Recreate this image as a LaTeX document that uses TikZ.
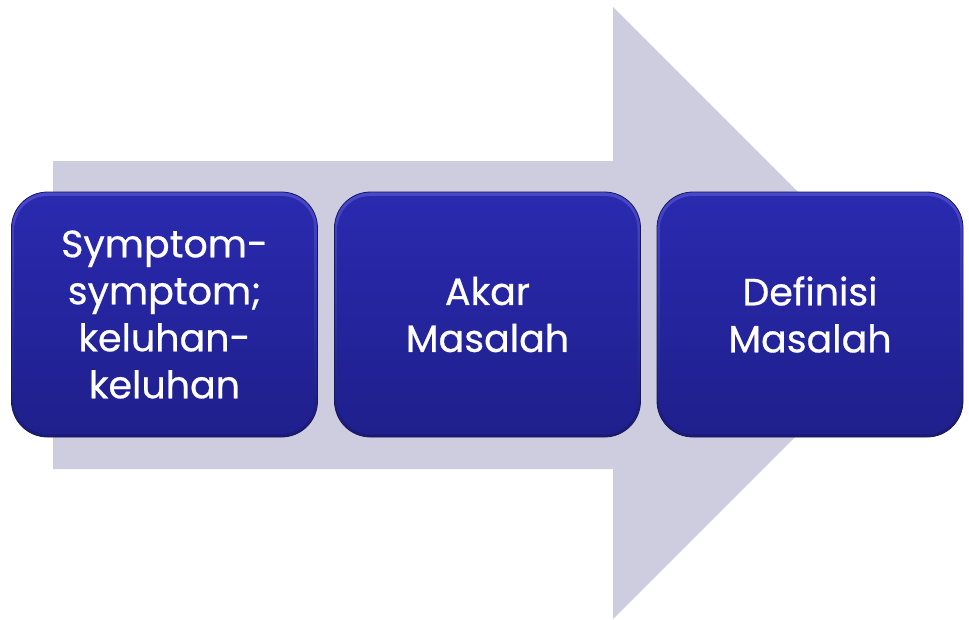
\documentclass[tikz,border=0pt]{standalone}
\usepackage{fontspec}
\setmainfont{Poppins}
\newfontfamily\stagefont{Poppins}[FakeBold=0.6]
\definecolor{arrowfill}{HTML}{CDCDDF}
\definecolor{boxtop}{HTML}{2A2AB0}
\definecolor{boxbot}{HTML}{1F1F8C}
\definecolor{rimtop}{HTML}{4848CC}
\definecolor{rimbot}{HTML}{1A1A78}
\definecolor{boxline}{HTML}{16165E}
\begin{document}
\begin{tikzpicture}[x=1pt,y=-1pt,
  stage/.style={minimum width=306pt, minimum height=245pt, rounded corners=36pt,
    draw=boxline, line width=0.8pt, top color=rimtop, bottom color=rimbot,
    align=center, text=white, font=\stagefont\fontsize{38}{47}\selectfont, inner sep=0pt,
    path picture={\shade[top color=boxtop, bottom color=boxbot, rounded corners=33pt]
      ([shift={(3pt,-4pt)}]path picture bounding box.north west) rectangle
      ([shift={(-3pt,3pt)}]path picture bounding box.south east);}}
]
\useasboundingbox (0,0) rectangle (969,619);
% broad background arrow
\fill[arrowfill] (53,161) -- (613,161) -- (613,7) -- (919,313) -- (613,619)
  -- (613,469) -- (53,469) -- cycle;
% the three stages
\node[stage] (s1) at (164.5,314.5) {Symptom-\\symptom;\\keluhan-\\keluhan};
\node[stage] (s2) at (487.5,314.5) {Akar\\Masalah};
\node[stage] (s3) at (810,314.5) {Definisi\\Masalah};
\end{tikzpicture}
\end{document}
